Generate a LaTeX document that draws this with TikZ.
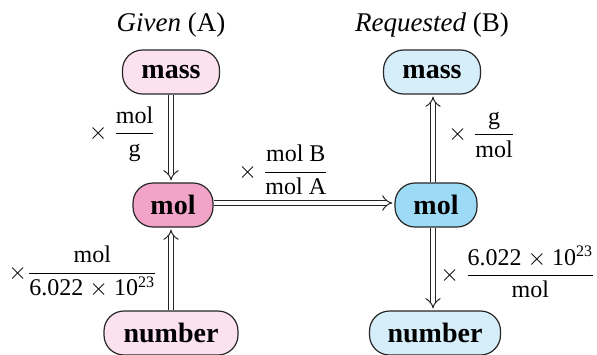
\documentclass[tikz,border=0pt]{standalone}
\usepackage{amsmath}
\usepackage{fontspec}
\setmainfont{Liberation Serif}
\usetikzlibrary{arrows.meta}
\definecolor{pinkL}{HTML}{FCE1EE}
\definecolor{pinkD}{HTML}{F2A3C8}
\definecolor{blueL}{HTML}{D6EEFA}
\definecolor{blueD}{HTML}{9DDAF5}
\newcommand\fr[2]{$\dfrac{\text{#1}}{\text{#2}}$}
\newcommand\tms{$\times$}
\tikzset{
  qbox/.style={draw=black!85, line width=0.6pt, rounded corners=10pt, minimum height=22pt,
    inner sep=0pt, font=\fontsize{14}{16}\selectfont\bfseries},
  conv/.style={double=white, double distance=2.2pt, line width=0.5pt, draw=black!85,
    -{Implies[length=4pt,width=7pt]}, shorten >=1pt},
  lbl/.style={font=\fontsize{12}{14}\selectfont, inner sep=0pt},
  ttl/.style={font=\fontsize{13.5}{16}\selectfont}
}
\begin{document}
\begin{tikzpicture}[x=0.5pt,y=-0.5pt]
\useasboundingbox (0,0) rectangle (597,354);
\node[ttl] (tA) at (171,25) {\textit{Given} (A)};
\node[ttl] (tB) at (432,25) {\textit{Requested} (B)};
\node[qbox, fill=pinkL, minimum width=48.5pt] (Amass) at (171,72) {mass};
\node[qbox, fill=pinkD, minimum width=40pt] (Amol) at (173,205) {mol};
\node[qbox, fill=pinkL, minimum width=67pt] (Anum) at (171,333) {number};
\node[qbox, fill=blueL, minimum width=48.5pt] (Bmass) at (432,72) {mass};
\node[qbox, fill=blueD, minimum width=41pt] (Bmol) at (436,205) {mol};
\node[qbox, fill=blueL, minimum width=65.5pt] (Bnum) at (435,333) {number};
\draw[conv] (Amass.south -| 171,0) -- (Amol.north -| 171,0);
\draw[conv] (Anum.north -| 171,0) -- (Amol.south -| 171,0);
\draw[conv] (Amol.east |- 0,203) -- (Bmol.west |- 0,203);
\draw[conv] (Bmol.north -| 433,0) -- (Bmass.south -| 433,0);
\draw[conv] (Bmol.south -| 433,0) -- (Bnum.north -| 433,0);
\node[lbl, anchor=east] (l1) at (156,134) {\tms\ \fr{mol}{g}};
\node[lbl, anchor=west] (l2) at (238,170) {\tms\ \fr{mol B}{mol A}};
\node[lbl, anchor=west] (l3) at (448,135) {\tms\ \fr{g}{mol}};
\node[lbl, anchor=east] (l4) at (596,272) {\tms\ \fr{6.022 \tms{} 10\textsuperscript{23}}{mol}};
\node[lbl, anchor=west] (l5) at (8,272) {\tms\fr{mol}{6.022 \tms{} 10\textsuperscript{23}}};
\end{tikzpicture}
\end{document}
